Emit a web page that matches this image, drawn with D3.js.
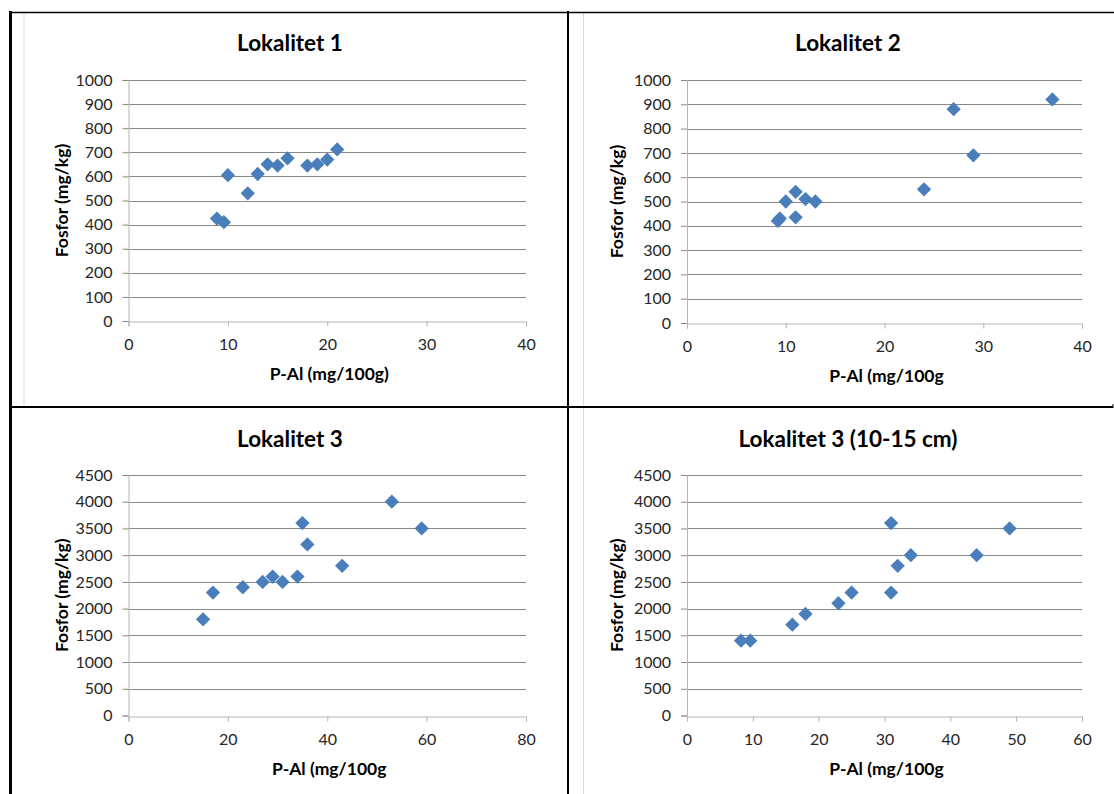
<!DOCTYPE html>
<html>
<head>
<meta charset="utf-8">
<script src="https://cdn.jsdelivr.net/npm/d3@7"></script>
<style>
  body { margin: 0; background: #fff; }
  svg { display: block; }
  text { font-family: Lato, "Open Sans", sans-serif; }
</style>
</head>
<body>
<svg id="chart" width="1114" height="794"></svg>
<script>
// Site names and axis titles
const panelTitles = ["Lokalitet 1", "Lokalitet 2", "Lokalitet 3", "Lokalitet 3 (10-15 cm)"];
const xAxisTitles = ["P-Al (mg/100g)", "P-Al (mg/100g", "P-Al (mg/100g", "P-Al (mg/100g"];
const yAxisTitle = "Fosfor (mg/kg)";

// Lokalitet 1: P-Al (mg/100g) vs total phosphorus (mg/kg)
const lok1PAl = [8.9, 9.6, 10, 12, 13, 14, 15, 16, 18, 19, 20, 21];
const lok1P   = [425, 410, 605, 530, 610, 650, 645, 675, 645, 650, 670, 712];

// Lokalitet 2
const lok2PAl = [9.2, 9.4, 10, 11, 11, 12, 13, 24, 27, 29, 37];
const lok2P   = [420, 430, 500, 540, 435, 510, 500, 550, 880, 690, 920];

// Lokalitet 3
const lok3PAl = [15, 17, 23, 27, 29, 31, 34, 35, 36, 43, 53, 59];
const lok3P   = [1800, 2300, 2400, 2500, 2600, 2500, 2600, 3600, 3200, 2800, 4000, 3500];

// Lokalitet 3, 10-15 cm depth
const lok3dPAl = [8.2, 9.6, 16, 18, 23, 25, 31, 31, 32, 34, 44, 49];
const lok3dP   = [1400, 1400, 1700, 1900, 2100, 2300, 2300, 3600, 2800, 3000, 3000, 3500];

// Tick values
const xTicks40 = [0, 10, 20, 30, 40];
const xTicks80 = [0, 20, 40, 60, 80];
const xTicks60 = [0, 10, 20, 30, 40, 50, 60];
const yTicks1000 = [0, 100, 200, 300, 400, 500, 600, 700, 800, 900, 1000];
const yTicks4500 = [0, 500, 1000, 1500, 2000, 2500, 3000, 3500, 4000, 4500];

const panelData = [
  { xs: lok1PAl,  ys: lok1P,  xTicks: xTicks40, yTicks: yTicks1000 },
  { xs: lok2PAl,  ys: lok2P,  xTicks: xTicks40, yTicks: yTicks1000 },
  { xs: lok3PAl,  ys: lok3P,  xTicks: xTicks80, yTicks: yTicks4500 },
  { xs: lok3dPAl, ys: lok3dP, xTicks: xTicks60, yTicks: yTicks4500 }
];

// Plot rectangles and text anchors for the 2x2 grid
const layout = [
  { left: 128.5, right: 526,  top: 80,  bottom: 321,   titleX: 290, titleY: 51,  yTitleX: 62 },
  { left: 687,   right: 1082, top: 80,  bottom: 323,   titleX: 848, titleY: 51,  yTitleX: 617 },
  { left: 128.5, right: 526,  top: 475, bottom: 715.5, titleX: 290, titleY: 447, yTitleX: 62 },
  { left: 687,   right: 1082, top: 475, bottom: 715.5, titleX: 848, titleY: 447, yTitleX: 617 }
];

const svg = d3.select("#chart");
const markerColor = "#4a7ebb";
const gridColor = "#878787";
const axisColor = "#b5b5b5";
const diamond = d3.symbol().type(d3.symbolSquare).size(102);

// Frame lines around and between the four charts
const frame = svg.append("g");
frame.append("line").attr("x1", 24).attr("x2", 24).attr("y1", 13).attr("y2", 406)
  .attr("stroke", "#dcdcdc").attr("stroke-width", 1);
frame.append("line").attr("x1", 583.5).attr("x2", 583.5).attr("y1", 13).attr("y2", 794)
  .attr("stroke", "#dcdcdc").attr("stroke-width", 1);
frame.append("line").attr("x1", 10.5).attr("x2", 10.5).attr("y1", 11).attr("y2", 794)
  .attr("stroke", "#000").attr("stroke-width", 3);
frame.append("line").attr("x1", 9).attr("x2", 1114).attr("y1", 12.5).attr("y2", 12.5)
  .attr("stroke", "#000").attr("stroke-width", 1.5);
frame.append("line").attr("x1", 568).attr("x2", 568).attr("y1", 11).attr("y2", 794)
  .attr("stroke", "#000").attr("stroke-width", 2);
frame.append("line").attr("x1", 9).attr("x2", 1113).attr("y1", 407).attr("y2", 407)
  .attr("stroke", "#000").attr("stroke-width", 2);
frame.append("line").attr("x1", 1113).attr("x2", 1113).attr("y1", 404).attr("y2", 408)
  .attr("stroke", "#000").attr("stroke-width", 1);

panelData.forEach((d, i) => {
  const L = layout[i];
  const x = d3.scaleLinear().domain([d.xTicks[0], d.xTicks[d.xTicks.length - 1]]).range([L.left, L.right]);
  const y = d3.scaleLinear().domain([d.yTicks[0], d.yTicks[d.yTicks.length - 1]]).range([L.bottom, L.top]);
  const g = svg.append("g");

  // horizontal gridlines
  g.append("g").selectAll("line").data(d.yTicks.slice(1)).join("line")
    .attr("x1", L.left).attr("x2", L.right)
    .attr("y1", v => Math.round(y(v)) + 0.5).attr("y2", v => Math.round(y(v)) + 0.5)
    .attr("stroke", gridColor).attr("stroke-width", 1);

  // y axis with outside ticks
  const yAxis = g.append("g").attr("transform", `translate(${L.left},0)`)
    .call(d3.axisLeft(y).tickValues(d.yTicks).tickSize(6).tickPadding(10).tickFormat(d3.format("d")));
  yAxis.select(".domain").attr("stroke", axisColor);
  yAxis.selectAll(".tick line").attr("stroke", gridColor);
  yAxis.selectAll("text").attr("font-size", 16).attr("fill", "#262626")
    .attr("font-family", "Lato, 'Open Sans', sans-serif");

  // x axis
  const xAxis = g.append("g").attr("transform", `translate(0,${Math.round(L.bottom) + 0.5})`)
    .call(d3.axisBottom(x).tickValues(d.xTicks).tickSize(5).tickPadding(12).tickFormat(d3.format("d")));
  xAxis.select(".domain").attr("stroke", axisColor);
  xAxis.selectAll(".tick line").attr("stroke", axisColor);
  xAxis.selectAll("text").attr("font-size", 16).attr("fill", "#262626")
    .attr("font-family", "Lato, 'Open Sans', sans-serif");

  // chart title
  g.append("text").attr("x", L.titleX).attr("y", L.titleY)
    .attr("text-anchor", "middle").attr("font-weight", "bold").attr("font-size", 22.5)
    .attr("fill", "#000").text(panelTitles[i]);

  // axis titles
  g.append("text").attr("x", (L.left + L.right) / 2 + 2).attr("y", L.bottom + 59)
    .attr("text-anchor", "middle").attr("font-weight", "bold").attr("font-size", 17.5)
    .attr("fill", "#000").text(xAxisTitles[i]);
  g.append("text")
    .attr("transform", `translate(${L.yTitleX + 6},${(L.top + L.bottom) / 2}) rotate(-90)`)
    .attr("text-anchor", "middle").attr("font-weight", "bold").attr("font-size", 17.5)
    .attr("fill", "#000").text(yAxisTitle);

  // data markers (diamonds)
  g.append("g").selectAll("path").data(d.xs.map((v, k) => [v, d.ys[k]])).join("path")
    .attr("d", diamond)
    .attr("transform", p => `translate(${x(p[0])},${y(p[1])}) rotate(45)`)
    .attr("fill", markerColor);
});
</script>
</body>
</html>
